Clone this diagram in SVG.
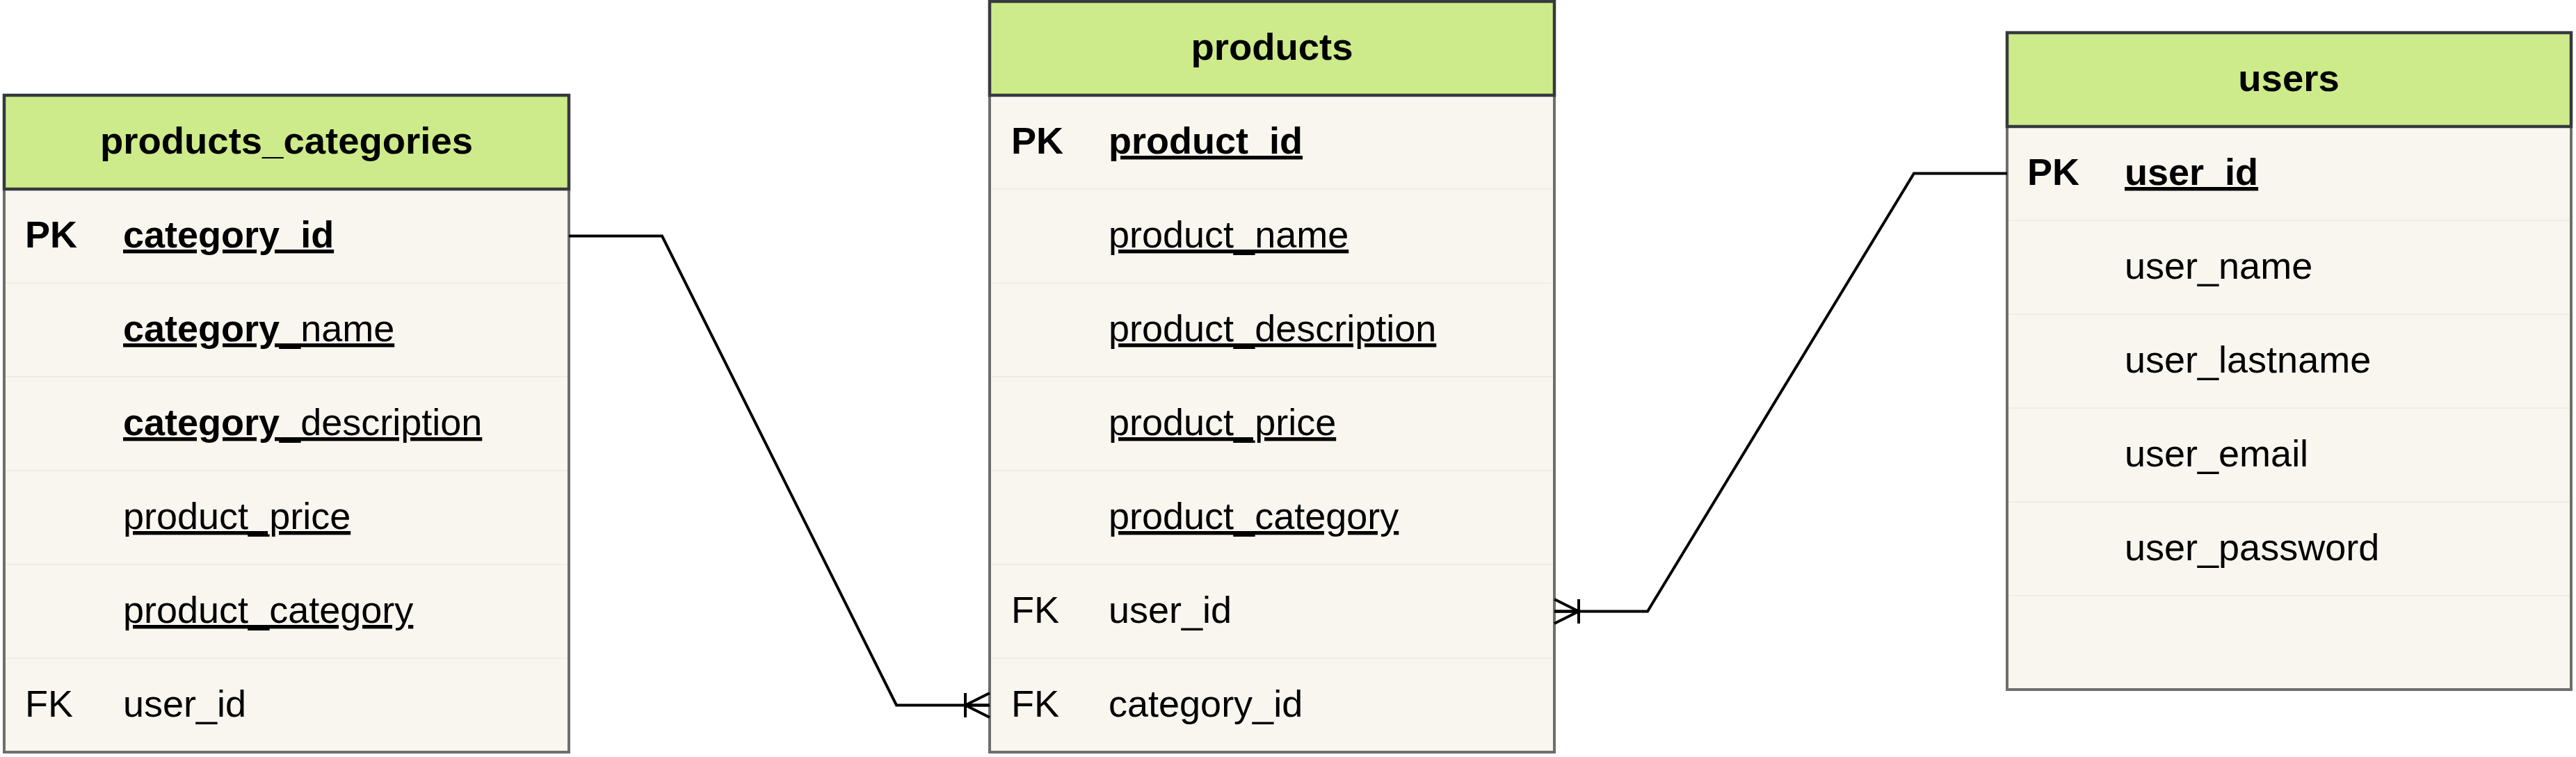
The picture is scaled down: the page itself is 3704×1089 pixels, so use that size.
<svg xmlns="http://www.w3.org/2000/svg" width="3704" height="1089" viewBox="0 0 3704 1089">
<style>
  text { font-family: "Liberation Sans", Arial, Helvetica, sans-serif; font-size: 54px; fill: #000; }
  .title { font-weight: bold; text-anchor: middle; font-size: 54.5px; }
  .b { font-weight: bold; }
  .u { text-decoration: underline; }
  .body { fill: #f8f6ee; stroke: #6e6e6e; stroke-width: 4; }
  .head { fill: #cdeb8b; stroke: #36393d; stroke-width: 4.5; }
  .sep { stroke: #eeece4; stroke-width: 2; }
  .conn { fill: none; stroke: #000; stroke-width: 4; }
</style>
<defs>
  <marker id="oneMany" markerUnits="userSpaceOnUse" viewBox="-45 -25 50 50" markerWidth="50" markerHeight="50" refX="0" refY="0" orient="auto" overflow="visible">
    <path d="M-35,0 L0,-17.5 M-35,0 L0,17.5 M-35,-17.5 V17.5 M-35,0 H0" fill="none" stroke="#000" stroke-width="4"/>
  </marker>
</defs>

<g id="products_categories">
  <rect class="body" x="6" y="137" width="812" height="945"/>
  <line class="sep" x1="8" y1="407" x2="816" y2="407"/>
  <line class="sep" x1="8" y1="542" x2="816" y2="542"/>
  <line class="sep" x1="8" y1="677" x2="816" y2="677"/>
  <line class="sep" x1="8" y1="812" x2="816" y2="812"/>
  <line class="sep" x1="8" y1="947" x2="816" y2="947"/>
  <rect class="head" x="6" y="137" width="812" height="135"/>
  <text class="title" x="412" y="221">products_categories</text>
  <text class="b" x="36" y="356">PK</text>
  <text class="b u" x="177" y="356">category_id</text>
  <text class="u" x="177" y="491"><tspan class="b">category</tspan>_name</text>
  <text class="u" x="177" y="626"><tspan class="b">category</tspan>_description</text>
  <text class="u" x="177" y="761">product_price</text>
  <text class="u" x="177" y="896">product_category</text>
  <text x="36" y="1031">FK</text>
  <text x="177" y="1031">user_id</text>
</g>

<g id="products">
  <rect class="body" x="1423" y="2" width="812" height="1080"/>
  <line class="sep" x1="1425" y1="272" x2="2233" y2="272"/>
  <line class="sep" x1="1425" y1="407" x2="2233" y2="407"/>
  <line class="sep" x1="1425" y1="542" x2="2233" y2="542"/>
  <line class="sep" x1="1425" y1="677" x2="2233" y2="677"/>
  <line class="sep" x1="1425" y1="812" x2="2233" y2="812"/>
  <line class="sep" x1="1425" y1="947" x2="2233" y2="947"/>
  <rect class="head" x="1423" y="2" width="812" height="135"/>
  <text class="title" x="1829" y="86">products</text>
  <text class="b" x="1454" y="221">PK</text>
  <text class="b u" x="1594" y="221">product_id</text>
  <text class="u" x="1594" y="356">product_name</text>
  <text class="u" x="1594" y="491">product_description</text>
  <text class="u" x="1594" y="626">product_price</text>
  <text class="u" x="1594" y="761">product_category</text>
  <text x="1454" y="896">FK</text>
  <text x="1594" y="896">user_id</text>
  <text x="1454" y="1031">FK</text>
  <text x="1594" y="1031">category_id</text>
</g>

<g id="users">
  <rect class="body" x="2886" y="47" width="811" height="945"/>
  <line class="sep" x1="2888" y1="317" x2="3695" y2="317"/>
  <line class="sep" x1="2888" y1="452" x2="3695" y2="452"/>
  <line class="sep" x1="2888" y1="587" x2="3695" y2="587"/>
  <line class="sep" x1="2888" y1="722" x2="3695" y2="722"/>
  <line class="sep" x1="2888" y1="857" x2="3695" y2="857"/>
  <rect class="head" x="2886" y="47" width="811" height="135"/>
  <text class="title" x="3291" y="131">users</text>
  <text class="b" x="2915" y="266">PK</text>
  <text class="b u" x="3055" y="266">user_id</text>
  <text x="3055" y="401">user_name</text>
  <text x="3055" y="536">user_lastname</text>
  <text x="3055" y="671">user_email</text>
  <text x="3055" y="806">user_password</text>
</g>

<g id="connectors">
  <path class="conn" d="M818,339.5 H952 L1289,1014.5 H1423" marker-end="url(#oneMany)"/>
  <path class="conn" d="M2886,249.5 H2752 L2369,879.5 H2235" marker-end="url(#oneMany)"/>
</g>
</svg>
